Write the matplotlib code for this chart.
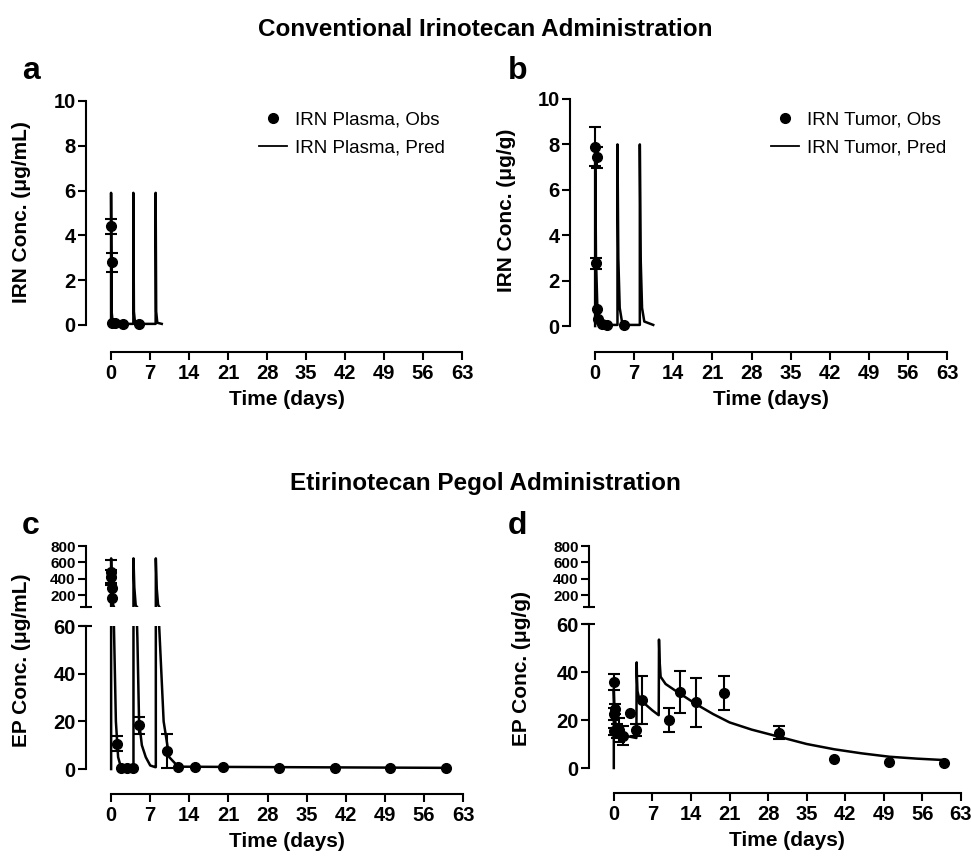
import matplotlib.pyplot as plt
import matplotlib.transforms as mtransforms
from matplotlib.lines import Line2D

plt.rcParams['font.family'] = ['Liberation Sans', 'DejaVu Sans']

# ---- data ----
day_ticks = [0, 7, 14, 21, 28, 35, 42, 49, 56, 63]

# a: IRN plasma
irn_plasma_t = [0.04, 0.083, 0.17, 0.7, 2.2, 5.1]
irn_plasma_obs = [4.4, 2.8, 0.1, 0.07, 0.06, 0.05]
irn_plasma_err = [0.32, 0.42, 0, 0, 0, 0]
irn_plasma_pred_t = [0, 0, 0.1, 0.3, 1, 4, 4, 4.1, 4.3, 5, 8, 8, 8.1, 8.3, 9.1]
irn_plasma_pred = [0, 5.9, 0.6, 0.1, 0.05, 0.05, 5.9, 0.6, 0.1, 0.05, 0.05, 5.9, 0.6, 0.1, 0.05]

# b: IRN tumor
irn_tumor_t = [0.04, 0.083, 0.25, 0.4, 0.5, 1.25, 2.1, 5.2]
irn_tumor_obs = [7.9, 2.76, 7.43, 0.75, 0.3, 0.1, 0.05, 0.05]
irn_tumor_err = [0.85, 0.25, 0.47, 0, 0, 0, 0, 0]
irn_tumor_pred_t = [0, 0, 0.15, 0.4, 0.8, 1.5, 4, 4, 4.15, 4.4, 4.8, 5.5, 8, 8, 8.15, 8.4, 8.8, 10.4]
irn_tumor_pred = [0, 8.0, 3.0, 0.8, 0.2, 0.05, 0.05, 8.0, 3.0, 0.8, 0.2, 0.05, 0.05, 8.0, 3.0, 0.8, 0.2, 0.05]

# c: EP plasma
ep_plasma_t = [0.02, 0.04, 0.083, 0.17, 1.1, 1.75, 2.9, 4.0, 5.0, 10.0, 12, 15, 20, 30, 40, 50, 60]
ep_plasma_obs = [480, 430, 290, 170, 10.7, 0.5, 0.5, 0.5, 18.3, 7.6, 1.0, 0.8, 0.8, 0.6, 0.6, 0.6, 0.6]
ep_plasma_err = [150, 80, 0, 0, 3.3, 0, 0, 0, 3.7, 7.0, 0, 0, 0, 0, 0, 0, 0]
ep_plasma_pred_t = [0, 0, 0.1, 0.3, 0.5, 0.85, 1.25, 1.75, 3.9, 4.0, 4.0, 4.15, 4.4, 4.7, 5.0,
                    5.5, 6.2, 7.0, 7.9, 8.0, 8.0, 8.15, 8.4, 8.6, 9.4, 10.4, 12, 20, 30, 40, 50, 60]
ep_plasma_pred = [0, 650, 250, 100, 60, 20, 5, 0.8, 0.6, 0.6, 650, 300, 80, 55, 20,
                  10, 5, 1.5, 0.8, 0.8, 650, 300, 90, 60, 20, 5, 1.0, 0.9, 0.8, 0.7, 0.6, 0.5]

# d: EP tumor
ep_tumor_t = [0.02, 0.04, 0.083, 0.17, 0.5, 1.0, 1.6, 2.9, 4.0, 5.2, 10, 12, 15, 20, 30, 40, 50, 60]
ep_tumor_obs = [15.3, 35.8, 22.5, 24.5, 15.5, 16.0, 13.5, 23.0, 15.7, 28.3, 19.9, 31.6, 27.3, 31.2,
                14.7, 3.6, 2.6, 1.9]
ep_tumor_err = [1.5, 3.5, 2.5, 2.0, 3.0, 5.0, 4.0, 0, 2.5, 10, 5, 8.8, 10.3, 7, 2.6, 0, 0, 0]
ep_tumor_pred_t = [0, 0, 0.1, 0.3, 0.6, 1, 2, 3, 4.1, 4.15, 4.2, 4.3, 4.6, 5.5, 7, 8.15, 8.2,
                   8.3, 8.5, 9.4, 11, 13, 15, 18, 21, 25, 30, 35, 40, 45, 50, 55, 60]
ep_tumor_pred = [0, 33, 26, 19, 16, 14.5, 13.5, 13, 12.5, 44, 38, 32, 29, 27, 24, 22, 53.5,
                 45, 38, 35, 32.5, 29.5, 26.5, 22.5, 19, 16, 13, 10, 7.8, 6.1, 4.7, 3.9, 3.3]

TICK_FS = 14.5
UPPER_TICK_FS = 11
LABEL_FS = 15
TITLE_FS = 17.5

fig = plt.figure(figsize=(9.71, 8.56), dpi=100)


def base_style(ax, ylim, ybounds, yticks, fs=TICK_FS):
    ax.set_xlim(-4.5, 63)
    ax.set_ylim(*ylim)
    for s in ['top', 'right']:
        ax.spines[s].set_visible(False)
    ax.spines['left'].set_bounds(*ybounds)
    ax.spines['left'].set_linewidth(1.5)
    ax.spines['bottom'].set_linewidth(1.5)
    ax.set_yticks(yticks)
    ax.tick_params(axis='both', width=1.5, length=5.5, labelsize=fs, pad=2)
    for lab in ax.get_yticklabels():
        lab.set_fontweight('bold')


def x_style(ax, outward):
    ax.spines['bottom'].set_position(('outward', outward))
    ax.spines['bottom'].set_bounds(0, 63)
    ax.set_xticks(day_ticks)
    ax.tick_params(axis='x', pad=3)
    for lab in ax.get_xticklabels():
        lab.set_fontweight('bold')
    ax.set_xlabel('Time (days)', fontsize=LABEL_FS, fontweight='bold', labelpad=5)
    # centre the label under the 0-63 axis line
    ax.xaxis.label.set_x((31.5 + 4.5) / 67.5)


def draw(ax, t, obs, err, pt, pred, lo=-1e9, hi=1e9):
    ax.plot(pt, pred, color='black', lw=1.8, zorder=2)
    keep = [i for i, v in enumerate(obs) if lo < v <= hi]
    ax.plot([t[i] for i in keep], [obs[i] for i in keep], 'o', color='black', ms=7, zorder=3)
    keep_e = [i for i in keep if err[i] > 0]
    ax.errorbar([t[i] for i in keep_e], [obs[i] for i in keep_e],
                yerr=[err[i] for i in keep_e], fmt='none', ecolor='black',
                elinewidth=1.5, capsize=4, capthick=1.5, zorder=3)


def cap(ax, yval):
    tr = mtransforms.blended_transform_factory(ax.transAxes, ax.transData)
    ax.plot([0], [yval], marker='_', ms=9, mew=1.5, color='black',
            transform=tr, clip_on=False)


def legend(ax, names, x, y):
    h = [Line2D([], [], marker='o', ls='none', color='black', ms=7),
         Line2D([], [], color='black', lw=1.3)]
    ax.legend(h, names, loc='upper left', bbox_to_anchor=(x / 971, 1 - y / 856),
              bbox_transform=fig.transFigure, frameon=False, fontsize=13.5,
              handlelength=1.5, handletextpad=0.4, labelspacing=0.6,
              borderpad=0, borderaxespad=0)


# ---- panel a ----
ax_a = fig.add_axes([86 / 971, 1 - 336.2 / 856, 376 / 971, 235.2 / 856])
base_style(ax_a, (-0.5, 10), (0, 10), [0, 2, 4, 6, 8, 10])
x_style(ax_a, 11.4)
draw(ax_a, irn_plasma_t, irn_plasma_obs, irn_plasma_err, irn_plasma_pred_t, irn_plasma_pred)
legend(ax_a, ['IRN Plasma, Obs', 'IRN Plasma, Pred'], 259, 111)

# ---- panel b ----
ax_b = fig.add_axes([570 / 971, 1 - 337.4 / 856, 377 / 971, 238.4 / 856])
base_style(ax_b, (-0.5, 10), (0, 10), [0, 2, 4, 6, 8, 10])
x_style(ax_b, 10.5)
draw(ax_b, irn_tumor_t, irn_tumor_obs, irn_tumor_err, irn_tumor_pred_t, irn_tumor_pred)
legend(ax_b, ['IRN Tumor, Obs', 'IRN Tumor, Pred'], 771, 111)

# ---- panel c (broken axis) ----
ax_c = fig.add_axes([86 / 971, 1 - 776.2 / 856, 377 / 971, 150.2 / 856])
base_style(ax_c, (-3, 60), (0, 60), [0, 20, 40, 60])
x_style(ax_c, 12.8)
draw(ax_c, ep_plasma_t, ep_plasma_obs, ep_plasma_err, ep_plasma_pred_t, ep_plasma_pred, hi=60)
cap(ax_c, 60)

ax_cu = fig.add_axes([86 / 971, 1 - 607 / 856, 377 / 971, 61 / 856])
base_style(ax_cu, (60, 800), (60, 800), [200, 400, 600, 800], fs=UPPER_TICK_FS)
ax_cu.spines['bottom'].set_visible(False)
ax_cu.set_xticks([])
draw(ax_cu, ep_plasma_t, ep_plasma_obs, ep_plasma_err, ep_plasma_pred_t, ep_plasma_pred, lo=60)
cap(ax_cu, 60)
legend(ax_c, ['EP Plasma, Obs', 'EP Plasma, Pred'], 268, 562)

# ---- panel d (broken axis) ----
ax_d = fig.add_axes([589 / 971, 1 - 775.2 / 856, 372 / 971, 151.2 / 856])
base_style(ax_d, (-3, 60), (0, 60), [0, 20, 40, 60])
x_style(ax_d, 12.8)
draw(ax_d, ep_tumor_t, ep_tumor_obs, ep_tumor_err, ep_tumor_pred_t, ep_tumor_pred)
cap(ax_d, 60)

ax_du = fig.add_axes([589 / 971, 1 - 607 / 856, 372 / 971, 61 / 856])
base_style(ax_du, (60, 800), (60, 800), [200, 400, 600, 800], fs=UPPER_TICK_FS)
ax_du.spines['bottom'].set_visible(False)
ax_du.set_xticks([])
cap(ax_du, 60)
legend(ax_d, ['EP Tumor, Obs', 'EP Tumor, Pred'], 783, 557)

# ---- titles and labels ----
fig.text(0.5, 1 - 30 / 856, 'Conventional Irinotecan Administration', ha='center', va='center',
         fontsize=TITLE_FS, fontweight='bold')
fig.text(0.5, 1 - 483 / 856, 'Etirinotecan Pegol Administration', ha='center', va='center',
         fontsize=TITLE_FS, fontweight='bold')
for letter, x, y in [('a', 22, 71), ('b', 508, 71), ('c', 22, 526), ('d', 508, 526)]:
    fig.text(x / 971, 1 - y / 856, letter, ha='left', va='center', fontsize=23, fontweight='bold')

for txt, x, y in [('IRN Conc. (μg/mL)', 22, 212), ('IRN Conc. (μg/g)', 507, 210),
                  ('EP Conc. (μg/mL)', 22, 660), ('EP Conc. (μg/g)', 521, 668)]:
    fig.text(x / 971, 1 - y / 856, txt, rotation=90, ha='center', va='center',
             fontsize=LABEL_FS, fontweight='bold')

plt.savefig('out.png', dpi=100)
